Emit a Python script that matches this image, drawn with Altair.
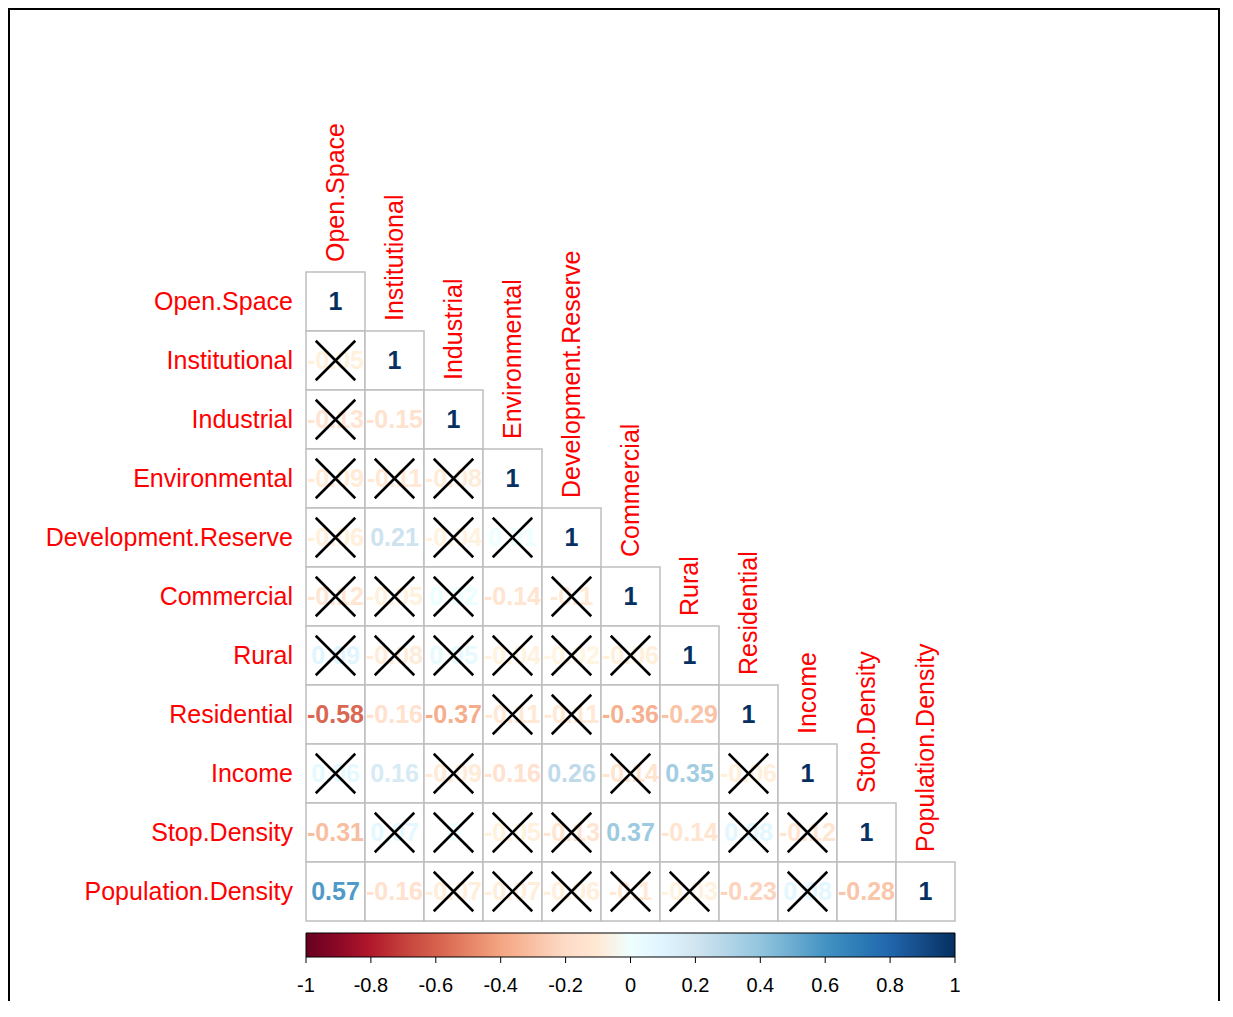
import altair as alt
import pandas as pd

variables = ["Open.Space", "Institutional", "Industrial", "Environmental",
             "Development.Reserve", "Commercial", "Rural", "Residential",
             "Income", "Stop.Density", "Population.Density"]

# lower triangle (below diagonal), row i has i values
corr_rows = [
    [],
    [-0.05],
    [-0.13, -0.15],
    [-0.09, -0.11, -0.08],
    [-0.06, 0.21, -0.04, 0.01],
    [-0.12, -0.05, 0.02, -0.14, -0.1],
    [0.09, -0.08, 0.05, -0.04, -0.02, -0.06],
    [-0.58, -0.16, -0.37, -0.11, -0.11, -0.36, -0.29],
    [0.06, 0.16, -0.09, -0.16, 0.26, -0.14, 0.35, -0.06],
    [-0.31, 0.07, 0.0, -0.05, -0.13, 0.37, -0.14, 0.08, -0.12],
    [0.57, -0.16, -0.07, -0.07, -0.06, -0.1, -0.03, -0.23, 0.08, -0.28],
]
# 1 = not significant (crossed out)
insig_rows = [
    [],
    [1],
    [1, 0],
    [1, 1, 1],
    [1, 0, 1, 1],
    [1, 1, 1, 0, 1],
    [1, 1, 1, 1, 1, 1],
    [0, 0, 0, 1, 1, 0, 0],
    [1, 0, 1, 0, 0, 1, 0, 1],
    [0, 1, 1, 1, 1, 0, 0, 1, 1],
    [0, 0, 1, 1, 1, 1, 1, 0, 1, 0],
]

color_stops = [-1, -0.8, -0.6, -0.4, -0.2, 0, 0.2, 0.4, 0.6, 0.8, 1]
color_range = ["#67001F", "#B2182B", "#D6604D", "#F4A582", "#FDDBC7", "#FFFFFF",
               "#D1E5F0", "#92C5DE", "#4393C3", "#2166AC", "#053061"]
tick_values = [-1, -0.8, -0.6, -0.4, -0.2, 0, 0.2, 0.4, 0.6, 0.8, 1]
tick_labels = ["-1", "-0.8", "-0.6", "-0.4", "-0.2", "0", "0.2", "0.4", "0.6", "0.8", "1"]

records = []
for i, name in enumerate(variables):
    for j in range(i + 1):
        v = 1.0 if i == j else corr_rows[i][j]
        ins = 0 if i == j else insig_rows[i][j]
        records.append({"row": i, "col": j, "value": v, "insig": ins,
                        "label": f"{v:g}"})
df = pd.DataFrame(records)
df_vars = pd.DataFrame({"name": variables, "idx": list(range(len(variables)))})
df_ticks = pd.DataFrame({"tick": tick_values, "tlabel": tick_labels})

FONT = "Liberation Sans"
N = len(variables)
xs = alt.Scale(domain=[0, N], nice=False, zero=False)
ys = alt.Scale(domain=[0, N], nice=False, zero=False, reverse=True)

base = alt.Chart(df).transform_calculate(
    x0="datum.col", x1="datum.col + 1", y0="datum.row", y1="datum.row + 1",
    xc="datum.col + 0.5", yc="datum.row + 0.5")

frame = alt.Chart(pd.DataFrame({"a": [0]})).mark_rect(
    fillOpacity=0, stroke="black", strokeWidth=2).encode(
    x=alt.value(-297), x2=alt.value(913), y=alt.value(-263), y2=alt.value(760))

cells = base.mark_rect(fill="white", stroke="#BEBEBE", strokeWidth=1.5).encode(
    x=alt.X("x0:Q", scale=xs, axis=None), x2="x1:Q",
    y=alt.Y("y0:Q", scale=ys, axis=None), y2="y1:Q")

text = base.mark_text(font=FONT, fontWeight="bold", fontSize=25,
                      baseline="middle", align="center").encode(
    x=alt.X("xc:Q", scale=xs, axis=None),
    y=alt.Y("yc:Q", scale=ys, axis=None),
    text="label:N",
    color=alt.Color("value:Q",
                    scale=alt.Scale(domain=color_stops, range=color_range),
                    legend=alt.Legend(orient="none", legendX=0, legendY=661,
                                      direction="horizontal",
                                      gradientLength=649, gradientThickness=24,
                                      values=tick_values, title=None,
                                      labelExpr="''", labelOverlap=False,
                                      gradientStrokeColor="black",
                                      gradientStrokeWidth=1, padding=0)))

crosses = base.transform_filter("datum.insig == 1").mark_point(
    shape="M-1,-1L1,1M1,-1L-1,1", filled=False, color="black",
    strokeWidth=2.6, size=1560, opacity=1).encode(
    x=alt.X("xc:Q", scale=xs, axis=None),
    y=alt.Y("yc:Q", scale=ys, axis=None))

lab_base = alt.Chart(df_vars).transform_calculate(
    c="datum.idx + 0.5", top="datum.idx")

row_labels = lab_base.mark_text(font=FONT, fontSize=25, color="#FF0000",
                                align="right", baseline="middle").encode(
    x=alt.value(-13), y=alt.Y("c:Q", scale=ys, axis=None), text="name:N")

col_labels = lab_base.mark_text(font=FONT, fontSize=25, color="#FF0000",
                                angle=270, align="left", baseline="middle",
                                dx=10).encode(
    x=alt.X("c:Q", scale=xs, axis=None),
    y=alt.Y("top:Q", scale=ys, axis=None), text="name:N")

tick_base = alt.Chart(df_ticks).transform_calculate(tx="(datum.tick + 1) * 5.5")

ticks = tick_base.mark_rule(color="black", strokeWidth=1).encode(
    x=alt.X("tx:Q", scale=xs, axis=None), y=alt.value(685), y2=alt.value(691))

tick_text = tick_base.mark_text(font=FONT, fontSize=20, color="black",
                                align="center", baseline="middle").encode(
    x=alt.X("tx:Q", scale=xs, axis=None), y=alt.value(714), text="tlabel:N")

chart = alt.layer(frame, cells, text, crosses, row_labels, col_labels,
                  ticks, tick_text).properties(
    width=649, height=649,
    autosize=alt.AutoSizeParams(type="none"),
    padding={"left": 298, "top": 264, "right": 265, "bottom": 80},
).configure_view(stroke=None)

chart.save("out.html", embed_options={"renderer": "svg", "actions": False})
